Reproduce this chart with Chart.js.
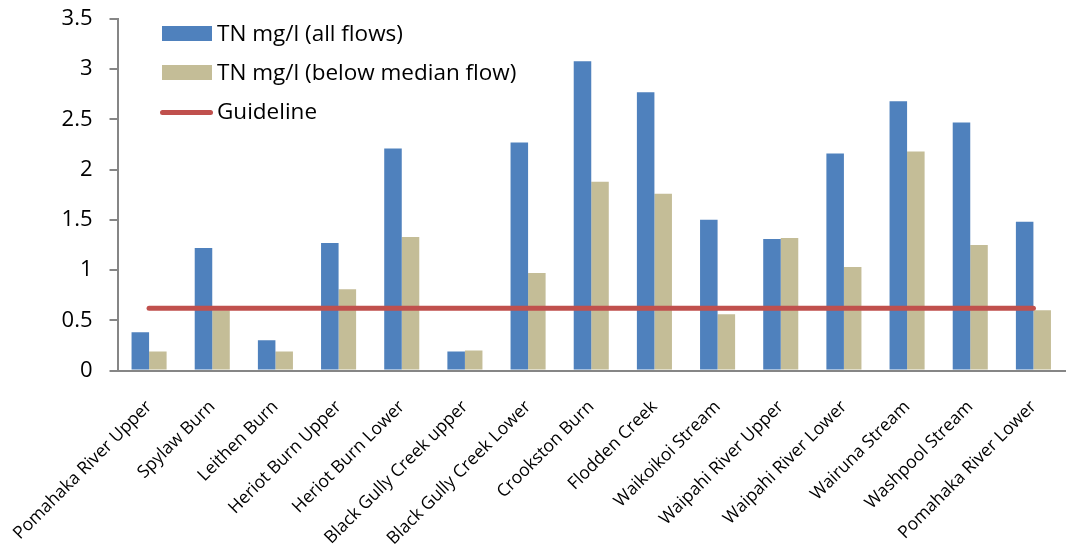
<!DOCTYPE html>
<html>
<head>
<meta charset="utf-8">
<script src="https://cdn.jsdelivr.net/npm/chart.js@4/dist/chart.umd.min.js"></script>
<style>
  html, body { margin: 0; padding: 0; background: #fff; }
  #wrap { position: relative; width: 1076px; height: 550px; }
  canvas { display: block; }
  .lg { position: absolute; font-family: "Open Sans", sans-serif; font-size: 22.5px; color: #000; line-height: 30px; white-space: nowrap; }
  .sw { position: absolute; }
</style>
</head>
<body>
<div id="wrap">
  <canvas id="c" width="1076" height="550"></canvas>
  <div class="sw" style="left:162px;top:26px;width:50px;height:15px;background:#4F81BD"></div>
  <div class="lg" style="left:217px;top:17.5px">TN mg/l (all flows)</div>
  <div class="sw" style="left:162px;top:65px;width:50px;height:15px;background:#C4BD97"></div>
  <div class="lg" style="left:217px;top:57px">TN mg/l (below median flow)</div>
  <div class="sw" style="left:160px;top:110px;width:53px;height:5px;border-radius:3px;background:#C0504D"></div>
  <div class="lg" style="left:217px;top:95.5px">Guideline</div>
</div>
<script>
const categories = ["Pomahaka River Upper", "Spylaw Burn", "Leithen Burn", "Heriot Burn Upper", "Heriot Burn Lower", "Black Gully Creek upper", "Black Gully Creek Lower", "Crookston Burn", "Flodden Creek", "Waikoikoi Stream", "Waipahi River Upper", "Waipahi River Lower", "Wairuna Stream", "Washpool Stream", "Pomahaka River Lower"];
const allFlows = [0.38, 1.22, 0.30, 1.27, 2.21, 0.19, 2.27, 3.08, 2.77, 1.50, 1.31, 2.16, 2.68, 2.47, 1.48];
const belowMedian = [0.19, 0.60, 0.19, 0.81, 1.33, 0.20, 0.97, 1.88, 1.76, 0.56, 1.32, 1.03, 2.18, 1.25, 0.60];
const guideline = [0.62, 0.62, 0.62, 0.62, 0.62, 0.62, 0.62, 0.62, 0.62, 0.62, 0.62, 0.62, 0.62, 0.62, 0.62];
const yTicks = [0, 0.5, 1, 1.5, 2, 2.5, 3, 3.5];

const FONT = '"Open Sans", sans-serif';
new Chart(document.getElementById('c'), {
  type: 'bar',
  data: {
    labels: categories,
    datasets: [
      { type: 'line', label: 'Guideline', data: guideline, borderColor: '#C0504D', borderWidth: 5, pointRadius: 0, borderCapStyle: 'round', fill: false, order: 0 },
      { label: 'TN mg/l (all flows)', data: allFlows, backgroundColor: '#4F81BD', categoryPercentage: 0.555, barPercentage: 1, order: 1 },
      { label: 'TN mg/l (below median flow)', data: belowMedian, backgroundColor: '#C4BD97', categoryPercentage: 0.555, barPercentage: 1, order: 1 }
    ]
  },
  options: {
    responsive: false,
    animation: false,
    layout: { padding: { top: 19, right: 11, left: 0, bottom: 0 } },
    plugins: { legend: { display: false }, tooltip: { enabled: false } },
    scales: {
      x: {
        grid: { display: false, drawTicks: false },
        border: { display: true, color: '#868686', width: 2 },
        ticks: { color: '#000', font: { family: FONT, size: 17.5 }, maxRotation: 45, minRotation: 45, autoSkip: false, padding: 26 },
        afterFit: s => { s.height = 179.5; s.paddingLeft = 0; s.paddingRight = 0; }
      },
      y: {
        min: 0, max: 3.5,
        afterBuildTicks: s => { s.ticks = yTicks.map(v => ({ value: v })); },
        grid: { display: true, drawOnChartArea: false, drawTicks: true, tickLength: 8, color: '#868686', lineWidth: 2 },
        border: { display: true, color: '#868686', width: 2 },
        ticks: { color: '#000', font: { family: FONT, size: 22 }, padding: 17, callback: v => String(v) },
        afterFit: s => { s.width = 117.5; s.paddingTop = 0; s.paddingBottom = 0; }
      }
    }
  }
});
</script>
</body>
</html>
